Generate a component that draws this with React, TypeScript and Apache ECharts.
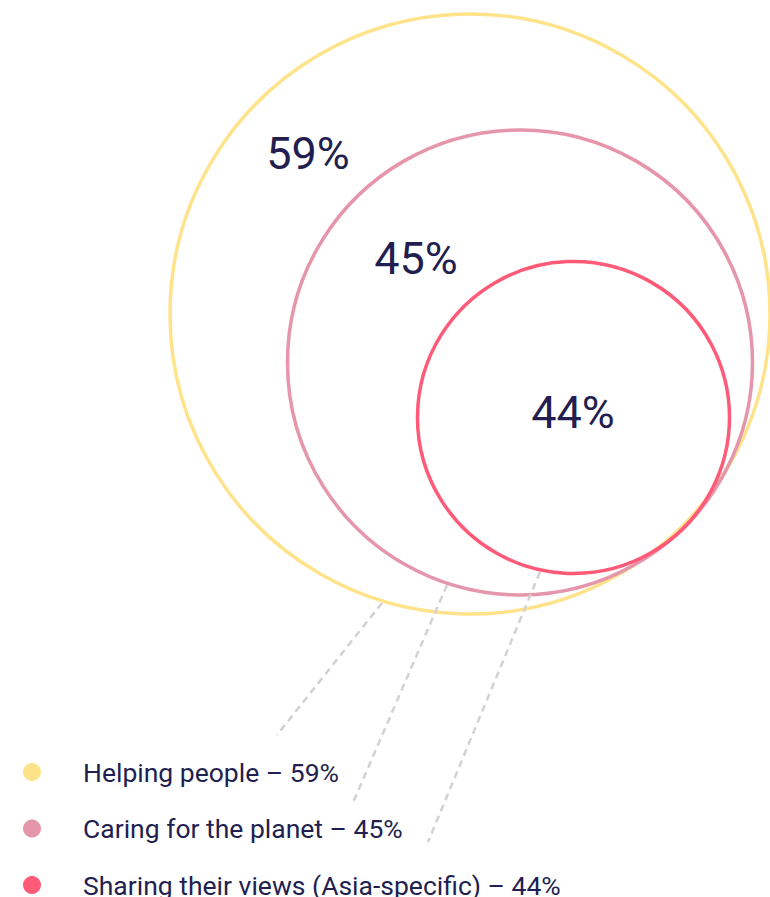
import React, { useEffect, useRef } from "react";
import * as echarts from "echarts";

// ---- data ----
const categories = [
  "Helping people",
  "Caring for the planet",
  "Sharing their views (Asia-specific)",
];
const values = [59, 45, 44];

// ---- styles ----
const colors = ["#FFE38A", "#E596AA", "#FF5A78"];
const navy = "#221F50";

// ---- layout (in the 770x897 canvas space, mapped through hidden axes) ----
const circleCenters = [
  [470, 314],
  [520, 362.5],
  [573.5, 417.5],
];
const circleRadii = [300, 232.5, 156];
const labelPositions = [
  [308, 153],
  [416, 258],
  [573, 412],
];
const leaderLines = [
  [[382, 603], [277, 735]],
  [[447, 585], [352, 805]],
  [[540, 572], [428, 842]],
];

const W = 770;
const H = 897;

export default function App() {
  const ref = useRef<HTMLDivElement>(null);

  useEffect(() => {
    if (!ref.current) return;
    const chart = echarts.init(ref.current, null, { renderer: "svg" });

    const series = categories.map((name, i) => ({
      name,
      type: "custom",
      coordinateSystem: "cartesian2d",
      clip: false,
      color: colors[i],
      itemStyle: { color: colors[i] },
      data: [
        [
          circleCenters[i][0],
          circleCenters[i][1],
          circleRadii[i],
          labelPositions[i][0],
          labelPositions[i][1],
          leaderLines[i][0][0],
          leaderLines[i][0][1],
          leaderLines[i][1][0],
          leaderLines[i][1][1],
          values[i],
        ],
      ],
      renderItem: (params: any, api: any) => {
        const c = api.coord([api.value(0), api.value(1)]);
        const r = Math.abs(api.size([api.value(2), 0])[0]);
        const lab = api.coord([api.value(3), api.value(4)]);
        const p1 = api.coord([api.value(5), api.value(6)]);
        const p2 = api.coord([api.value(7), api.value(8)]);
        return {
          type: "group",
          children: [
            {
              type: "line",
              shape: { x1: p1[0], y1: p1[1], x2: p2[0], y2: p2[1] },
              style: { stroke: "#d2d2d2", lineWidth: 2.5, lineDash: [7, 5] },
            },
            {
              type: "circle",
              shape: { cx: c[0], cy: c[1], r },
              style: { fill: "none", stroke: colors[i], lineWidth: 3.5 },
            },
            {
              type: "text",
              x: lab[0],
              y: lab[1],
              style: {
                text: api.value(9) + "%",
                fill: navy,
                fontSize: 45,
                fontFamily: "Roboto",
                fontWeight: 400,
                align: "center",
                verticalAlign: "middle",
              },
            },
          ],
        };
      },
    }));

    chart.setOption({
      animation: false,
      backgroundColor: "#ffffff",
      grid: { left: 0, right: 0, top: 0, bottom: 0 },
      xAxis: { type: "value", min: 0, max: W, show: false },
      yAxis: { type: "value", min: 0, max: H, inverse: true, show: false },
      legend: {
        orient: "vertical",
        left: 23,
        top: 757,
        height: 200,
        padding: 0,
        icon: "circle",
        itemWidth: 18,
        itemHeight: 18,
        itemGap: 26.5,
        selectedMode: false,
        data: categories,
        formatter: (name: string) =>
          `${name} – ${values[categories.indexOf(name)]}%`,
        textStyle: {
          color: navy,
          fontSize: 26.5,
          lineHeight: 30,
          fontFamily: "Roboto",
          padding: [0, 0, 0, 37],
        },
      },
      series,
    } as any);

    return () => chart.dispose();
  }, []);

  return (
    <div
      ref={ref}
      style={{ position: "absolute", left: 0, top: 0, width: W, height: H }}
    />
  );
}
